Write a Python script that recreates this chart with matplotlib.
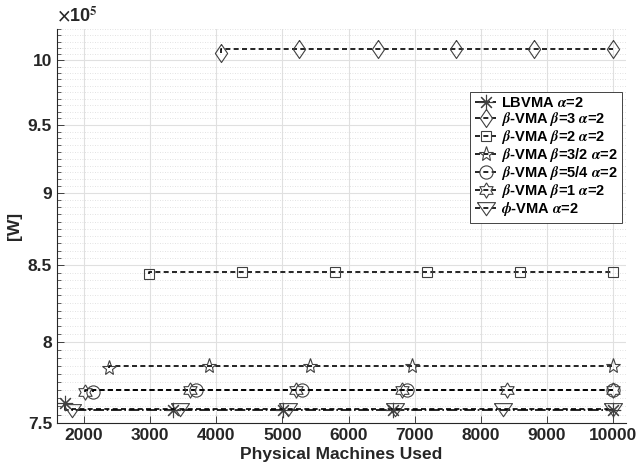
import numpy as np
import matplotlib.pyplot as plt
from matplotlib.ticker import FixedLocator, FixedFormatter, NullFormatter

plt.rcParams['font.family'] = 'Liberation Sans'
plt.rcParams['font.weight'] = 'bold'
plt.rcParams['mathtext.fontset'] = 'stix'

# power consumption, in units of 1e5 W
lb_x = [1710, 3340, 5010, 6680, 10000]
lb_y = [7.62, 7.577, 7.577, 7.577, 7.577]

b3_x = [4070, 5250, 6440, 7620, 8810, 10000]
b3_y = [10.06, 10.09, 10.09, 10.09, 10.09, 10.09]

b2_x = [2980, 4390, 5790, 7190, 8590, 10000]
b2_y = [8.44, 8.455, 8.455, 8.455, 8.455, 8.455]

b32_x = [2370, 3890, 5420, 6960, 10000]
b32_y = [7.834, 7.847, 7.847, 7.847, 7.847]

b54_x = [2140, 3700, 5290, 6880, 10000]
b54_y = [7.689, 7.70, 7.70, 7.70, 7.70]

b1_x = [2015, 3600, 5200, 6810, 8400, 10000]
b1_y = [7.689, 7.70, 7.70, 7.70, 7.70, 7.70]

phi_x = [1820, 3450, 5080, 6700, 8330, 10000]
phi_y = [7.58, 7.585, 7.585, 7.585, 7.585, 7.585]

yticks = [7.5, 8, 8.5, 9, 9.5, 10]
ytick_labels = ['7.5', '8', '8.5', '9', '9.5', '10']
xticks = [2000, 3000, 4000, 5000, 6000, 7000, 8000, 9000, 10000]

# marker shapes
diamond = [(0, 1), (0.68, 0), (0, -1), (-0.68, 0), (0, 1)]
tri_down = [(-1, 0.65), (1, 0.65), (0, -0.8), (-1, 0.65)]
ang = np.deg2rad(90 + 30 * np.arange(12))
rad = np.where(np.arange(12) % 2 == 0, 1.0, 0.58)
hexagram = list(zip(rad * np.cos(ang), rad * np.sin(ang)))
hexagram.append(hexagram[0])

txt = '#262626'
mec = '0.25'
fig = plt.figure(figsize=(6.38, 4.74), dpi=100)
ax = fig.add_axes([0.0893, 0.1076, 0.8917, 0.8306])

# the value settles right after the first sample, so the line is drawn as steps
common = dict(color='k', lw=1.2, mfc='none', mec=mec, mew=0.8, drawstyle='steps-pre')
ax.plot(lb_x, lb_y, ls='-.', marker=(8, 2, 0), ms=11, label=r'LBVMA $\alpha$=2', **common)
ax.plot(b3_x, b3_y, dashes=(3, 2), marker=diamond, ms=13, label=r'$\beta$-VMA $\beta$=3 $\alpha$=2', **common)
ax.plot(b2_x, b2_y, dashes=(3, 2), marker='s', ms=7.5, label=r'$\beta$-VMA $\beta$=2 $\alpha$=2', **common)
ax.plot(b32_x, b32_y, dashes=(3, 2), marker='*', ms=11, label=r'$\beta$-VMA $\beta$=3/2 $\alpha$=2', **common)
ax.plot(b54_x, b54_y, dashes=(3, 2), marker='o', ms=9.5, label=r'$\beta$-VMA $\beta$=5/4 $\alpha$=2', **common)
ax.plot(b1_x, b1_y, dashes=(3, 2), marker=hexagram, ms=11, label=r'$\beta$-VMA $\beta$=1 $\alpha$=2', **common)
ax.plot(phi_x, phi_y, dashes=(3, 2), marker=tri_down, ms=13, label=r'$\phi$-VMA $\alpha$=2', **common)

ax.set_yscale('log')
ax.set_xlim(1590, 10195)
ax.set_ylim(7.5, 10.25)
ax.set_xticks(xticks)
ax.set_xticklabels([str(v) for v in xticks])
ax.yaxis.set_major_locator(FixedLocator(yticks))
ax.yaxis.set_major_formatter(FixedFormatter(ytick_labels))
ax.yaxis.set_minor_locator(FixedLocator(np.arange(7.5, 10.26, 0.05)))
ax.yaxis.set_minor_formatter(NullFormatter())

ax.grid(True, which='major', color='0.88', lw=0.8, ls='-')
ax.grid(True, which='minor', axis='y', color='0.85', lw=0.6, ls=(0, (1, 2)))
ax.set_axisbelow(True)
for s in ['top', 'right']:
    ax.spines[s].set_visible(False)
for s in ['left', 'bottom']:
    ax.spines[s].set_color('0.15')
    ax.spines[s].set_linewidth(0.8)
ax.tick_params(which='both', direction='in', colors='0.15', labelcolor=txt, labelsize=12.5)
ax.tick_params(which='major', length=5, width=0.6)
ax.tick_params(which='minor', length=3, width=0.5)
for lab in ax.get_xticklabels() + ax.get_yticklabels():
    lab.set_fontweight('bold')

ax.set_xlabel('Physical Machines Used', fontsize=12.5, fontweight='bold', color=txt, labelpad=3)
ax.set_ylabel('[W]', fontsize=12.5, fontweight='bold', color=txt, labelpad=4)
ax.annotate(r'$\times$10$^5$', xy=(0, 1), xycoords='axes fraction', xytext=(0, 3),
            textcoords='offset points', fontsize=13, fontweight='bold', color=txt,
            va='bottom', ha='left')

leg = ax.legend(loc='upper right', bbox_to_anchor=(0.998, 0.848), fontsize=10.5,
                handlelength=1.5, handletextpad=0.3, labelspacing=0.0,
                borderpad=0.3, borderaxespad=0.2, fancybox=False, framealpha=1)
leg.get_frame().set_edgecolor('0.15')
leg.get_frame().set_linewidth(0.6)
for t in leg.get_texts():
    t.set_color('k')
    t.set_fontweight('bold')

fig.savefig('out.png', dpi=100)
